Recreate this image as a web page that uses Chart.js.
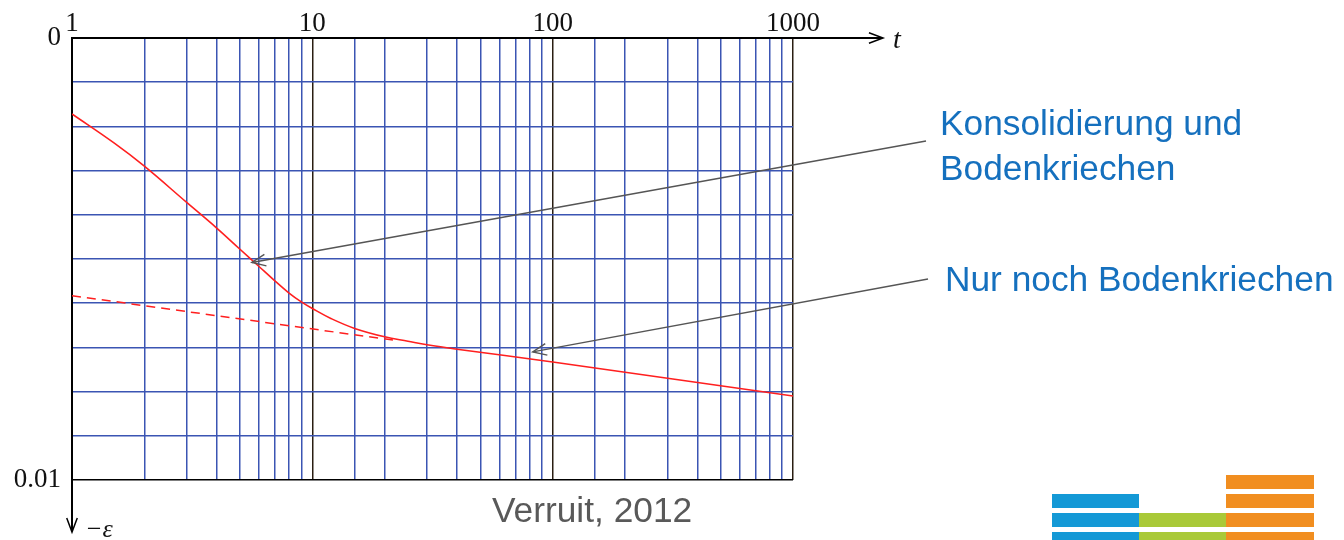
<!DOCTYPE html>
<html>
<head>
<meta charset="utf-8">
<script src="https://cdn.jsdelivr.net/npm/chart.js@4/dist/chart.umd.min.js"></script>
<style>
  body { margin: 0; background: #fff; }
  #wrap { position: relative; width: 1344px; height: 540px; overflow: hidden; }
  #wrap canvas { position: absolute; left: 0; top: 0; }
  .note { position: absolute; font-family: "Liberation Sans", Arial, sans-serif; font-size: 35.3px; line-height: 45px; color: #1570be; white-space: nowrap; }
  .cite { color: #595959; }
  .bar { position: absolute; height: 14px; }
</style>
</head>
<body>
<div id="wrap">
  <canvas id="chart" width="1344" height="540"></canvas>
  <div class="note" style="left:940px; top:100px;">Konsolidierung und<br>Bodenkriechen</div>
  <div class="note" style="left:945px; top:256px;">Nur noch Bodenkriechen</div>
  <div class="note cite" style="left:492px; top:487px;">Verruit, 2012</div>
  <!-- logo -->
  <div class="bar" style="left:1226px; top:475px; width:88px; background:#f18e20;"></div>
  <div class="bar" style="left:1052px; top:494px; width:87px; background:#1499d6;"></div>
  <div class="bar" style="left:1226px; top:494px; width:88px; background:#f18e20;"></div>
  <div class="bar" style="left:1052px; top:513px; width:87px; background:#1499d6;"></div>
  <div class="bar" style="left:1139px; top:513px; width:87px; background:#a9c938;"></div>
  <div class="bar" style="left:1226px; top:513px; width:88px; background:#f18e20;"></div>
  <div class="bar" style="left:1052px; top:532px; width:87px; background:#1499d6;"></div>
  <div class="bar" style="left:1139px; top:532px; width:87px; background:#a9c938;"></div>
  <div class="bar" style="left:1226px; top:532px; width:88px; background:#f18e20;"></div>
</div>
<script>
'use strict';

// time t (log axis) and strain -eps
var tSolid   = [1, 1.5, 2, 3, 4, 5, 6, 7, 8, 9, 10, 12, 15, 20, 25, 30, 40, 100, 1000];
var epsSolid = [0.00172, 0.00238, 0.00290, 0.00372, 0.00430, 0.00478, 0.00517, 0.00550, 0.00577,
                0.00597, 0.00612, 0.00635, 0.00657, 0.00676, 0.00686, 0.00694, 0.00704, 0.00733, 0.00810];
var tDashed   = [1, 22];
var epsDashed = [0.00583, 0.00684];

var xTickLabels = [1, 10, 100, 1000];
var yTickLabels = [0, 0.01];

// where the annotation arrows point to (data coords)
var arrowT   = [5.6, 82.6];
var arrowEps = [0.00508, 0.0071];
var arrowTails = [[926, 141], [928, 279]];

var BLUE_GRID = '#3b55b3';
var DECADE_GRID = '#2a1e12';
var RED = '#ff1f1f';
var SERIF = '"Liberation Serif", "DejaVu Serif", serif';

function toPoints(xs, ys) {
    return xs.map(function(x, i) { return { x: x, y: ys[i] }; });
}

function isDecade(v) {
    var l = Math.log10(v);
    return Math.abs(l - Math.round(l)) < 1e-9;
}

function arrowHead(ctx, x, y, angle, len, spread) {
    ctx.beginPath();
    ctx.moveTo(x + len * Math.cos(angle - spread), y + len * Math.sin(angle - spread));
    ctx.lineTo(x, y);
    ctx.lineTo(x + len * Math.cos(angle + spread), y + len * Math.sin(angle + spread));
    ctx.stroke();
}

var extras = {
    id: 'extras',
    afterDraw: function(chart) {
        var ctx = chart.ctx;
        var a = chart.chartArea;
        var xs = chart.scales.x, ys = chart.scales.y;
        ctx.save();

        // t axis arrow
        ctx.strokeStyle = '#000';
        ctx.lineWidth = 2;
        ctx.beginPath();
        ctx.moveTo(a.right, a.top);
        ctx.lineTo(a.right + 89, a.top);
        ctx.stroke();
        ctx.lineWidth = 1.5;
        arrowHead(ctx, a.right + 90, a.top, Math.PI, 15, 0.36);

        // -eps axis arrow
        ctx.lineWidth = 2;
        ctx.beginPath();
        ctx.moveTo(a.left, a.bottom);
        ctx.lineTo(a.left, a.bottom + 51);
        ctx.stroke();
        ctx.lineWidth = 1.5;
        arrowHead(ctx, a.left, a.bottom + 52, -Math.PI / 2, 15, 0.36);

        ctx.fillStyle = '#111';
        ctx.font = 'italic 28px ' + SERIF;
        ctx.textBaseline = 'alphabetic';
        ctx.textAlign = 'left';
        ctx.fillText('t', a.right + 100, a.top + 10);
        ctx.font = 'italic 26px ' + SERIF;
        ctx.fillText('\u2212\u03b5', a.left + 13, a.bottom + 57);

        // annotation arrows
        ctx.strokeStyle = '#555';
        ctx.lineWidth = 1.4;
        for (var i = 0; i < arrowT.length; i++) {
            var hx = xs.getPixelForValue(arrowT[i]);
            var hy = ys.getPixelForValue(arrowEps[i]);
            var tx = arrowTails[i][0], ty = arrowTails[i][1];
            ctx.beginPath();
            ctx.moveTo(tx, ty);
            ctx.lineTo(hx, hy);
            ctx.stroke();
            arrowHead(ctx, hx, hy, Math.atan2(ty - hy, tx - hx), 15, 0.4);
        }
        ctx.restore();
    }
};

var ctx = document.getElementById('chart').getContext('2d');
new Chart(ctx, {
    type: 'line',
    data: {
        datasets: [{
            data: toPoints(tSolid, epsSolid),
            borderColor: RED,
            borderWidth: 1.6,
            pointRadius: 0,
            tension: 0.4,
            fill: false
        }, {
            data: toPoints(tDashed, epsDashed),
            borderColor: RED,
            borderWidth: 1.5,
            borderDash: [9, 6],
            pointRadius: 0,
            fill: false
        }]
    },
    options: {
        responsive: false,
        animation: false,
        events: [],
        layout: { padding: { left: 0, top: 0, right: 551, bottom: 60 } },
        plugins: { legend: { display: false }, tooltip: { enabled: false } },
        scales: {
            x: {
                type: 'logarithmic',
                position: 'top',
                min: 1,
                max: 1000,
                afterFit: function(scale) { scale.height = 38; },
                border: { display: true, color: '#000', width: 2 },
                grid: {
                    drawTicks: false,
                    lineWidth: 1.5,
                    color: function(c) {
                        return c.tick && isDecade(c.tick.value) ? DECADE_GRID : BLUE_GRID;
                    }
                },
                ticks: {
                    autoSkip: false,
                    maxRotation: 0,
                    padding: -2,
                    color: '#111',
                    font: { family: SERIF, size: 27 },
                    callback: function(v) {
                        return xTickLabels.indexOf(Math.round(v)) >= 0 && isDecade(v) ? String(Math.round(v)) : '';
                    }
                }
            },
            y: {
                type: 'linear',
                reverse: true,
                min: 0,
                max: 0.01,
                afterFit: function(scale) { scale.width = 72; },
                border: { display: true, color: '#000', width: 2 },
                grid: {
                    drawTicks: false,
                    lineWidth: 1.5,
                    color: function(c) {
                        return c.tick && Math.abs(c.tick.value - 0.01) < 1e-9 ? '#000' : BLUE_GRID;
                    }
                },
                ticks: {
                    stepSize: 0.001,
                    autoSkip: false,
                    padding: 11,
                    color: '#111',
                    font: { family: SERIF, size: 27 },
                    callback: function(v) {
                        for (var i = 0; i < yTickLabels.length; i++) {
                            if (Math.abs(v - yTickLabels[i]) < 1e-9) return String(yTickLabels[i]);
                        }
                        return '';
                    }
                }
            }
        }
    },
    plugins: [extras]
});
</script>
</body>
</html>
